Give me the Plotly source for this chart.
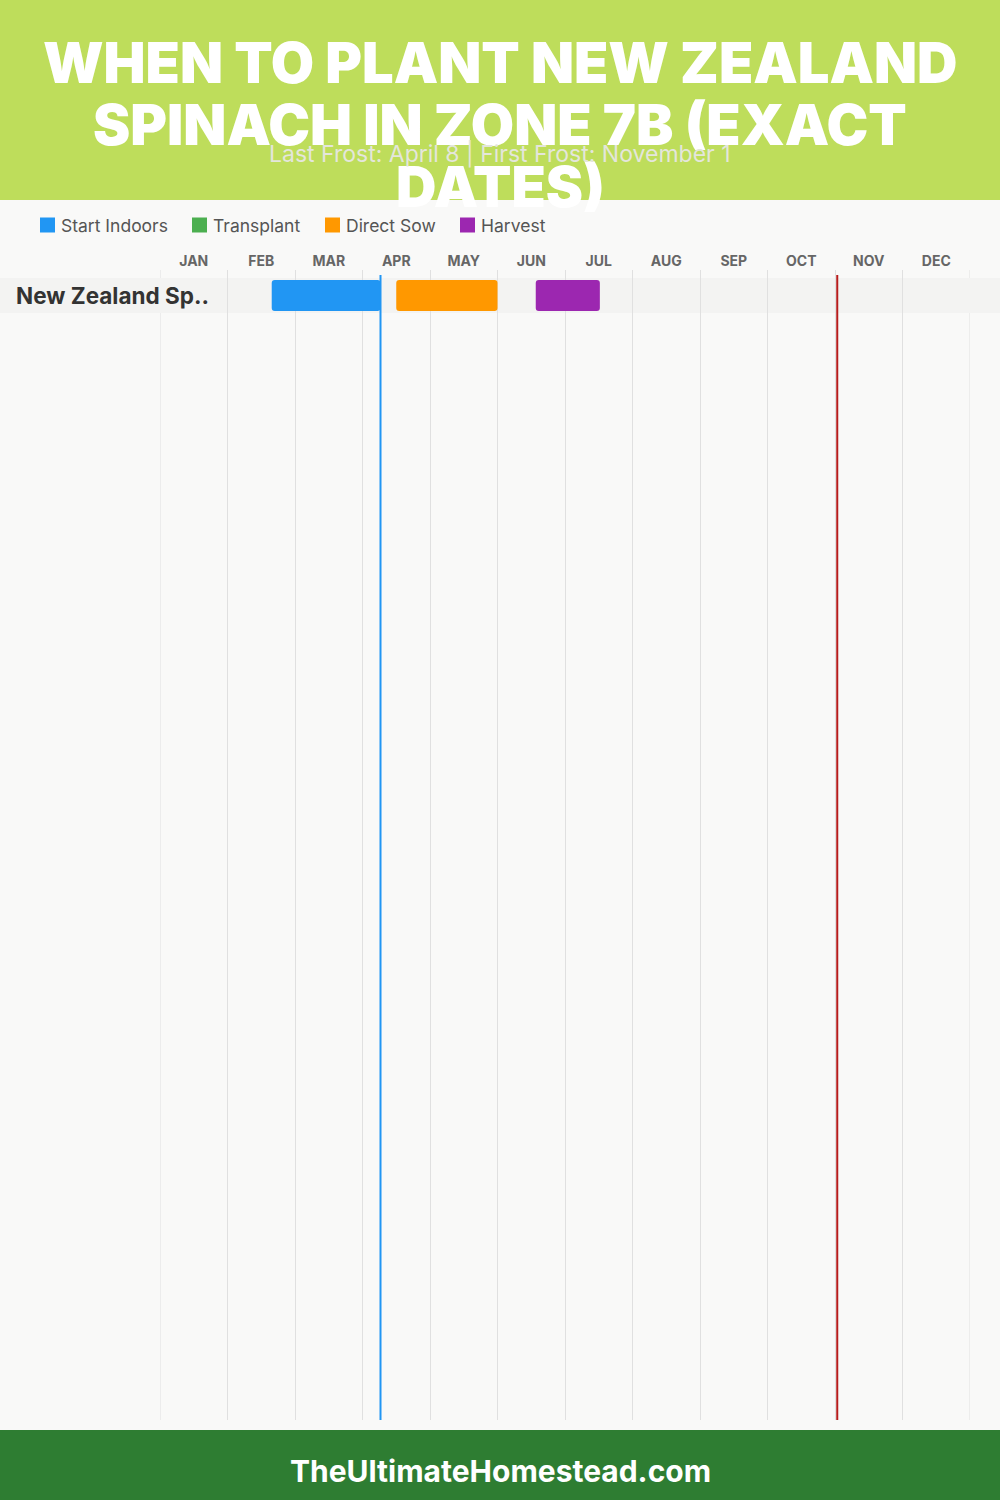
import plotly.graph_objects as go
from datetime import date

# ---------------- data ----------------
months = ["JAN", "FEB", "MAR", "APR", "MAY", "JUN", "JUL", "AUG", "SEP", "OCT", "NOV", "DEC"]
crops = ["New Zealand Sp.."]
legend_names = ["Start Indoors", "Transplant", "Direct Sow", "Harvest"]
legend_colors = ["#2196F3", "#4CAF50", "#FF9800", "#9C27B0"]
start_indoors = [("2024-02-19", "2024-04-08")]
transplant = []
direct_sow = [("2024-04-15", "2024-05-31")]
harvest = [("2024-06-17", "2024-07-16")]
last_frost = "2024-04-08"
first_frost = "2024-11-01"
title_lines = ["WHEN TO PLANT NEW ZEALAND", "SPINACH IN ZONE 7B (EXACT", "DATES)"]
subtitle = "Last Frost: April 8 | First Frost: November 1"
footer = "TheUltimateHomestead.com"

DIM = [31, 29, 31, 30, 31, 30, 31, 31, 30, 31, 30, 31]


def mpos(s):
    d = date.fromisoformat(s)
    return (d.month - 1) + d.day / DIM[d.month - 1]


W, H = 1000, 1500
ML, MR, MT, MB = 160, 30, 270, 80
PW, PH = W - ML - MR, H - MT - MB


def px(x):
    return (x - ML) / PW


def py(y):
    return (H - MB - y) / PH


FONT = "Inter"
fig = go.Figure()

series = [start_indoors, transplant, direct_sow, harvest]
for name, color, spans in zip(legend_names, legend_colors, series):
    if not spans:
        continue
    fig.add_trace(go.Bar(
        orientation="h",
        y=[i for i in range(len(spans))],
        base=[mpos(a) for a, b in spans],
        x=[mpos(b) - mpos(a) for a, b in spans],
        marker=dict(color=color, line=dict(width=0)),
        width=0.886,
        name=name,
        showlegend=False,
        hoverinfo="skip",
    ))

shapes = []
annotations = []
# header / footer
shapes.append(dict(type="rect", xref="paper", yref="paper", x0=px(0), x1=px(W), y0=py(200), y1=py(0),
                   fillcolor="#BEDD5B", line=dict(width=0), layer="below"))
shapes.append(dict(type="rect", xref="paper", yref="paper", x0=px(0), x1=px(W), y0=py(H), y1=py(1430),
                   fillcolor="#2E7D32", line=dict(width=0), layer="below"))
# boundary gridlines (year start / end)
for xb in (0, len(months)):
    shapes.append(dict(type="line", xref="x", yref="paper", x0=xb, x1=xb, y0=0, y1=1,
                       line=dict(color="#E0E0E0", width=1), layer="below"))
# row background
for i, c in enumerate(crops):
    shapes.append(dict(type="rect", xref="paper", yref="y", x0=px(0), x1=px(W), y0=i - 0.5, y1=i + 0.5,
                       fillcolor="#F3F3F2", line=dict(width=0), layer="between"))
    annotations.append(dict(xref="paper", yref="y", x=px(14), y=i, xanchor="left", yanchor="middle",
                            text=c, showarrow=False,
                            font=dict(family=FONT, size=22.5, color="#333333", weight=700)))
# frost lines
shapes.append(dict(type="line", xref="x", yref="paper", x0=mpos(last_frost), x1=mpos(last_frost),
                   y0=0, y1=py(275), line=dict(color="#2196F3", width=2), layer="above"))
shapes.append(dict(type="line", xref="x", yref="paper", x0=mpos(first_frost), x1=mpos(first_frost),
                   y0=0, y1=py(275), line=dict(color="#B71C1C", width=2), layer="above"))

# title
for k, line in enumerate(title_lines):
    annotations.append(dict(xref="paper", yref="paper", x=px(500), y=py(63 + 62 * k), xanchor="center",
                            yanchor="middle", text=line, showarrow=False,
                            font=dict(family=FONT, size=56, color="white", weight=900)))
annotations.append(dict(xref="paper", yref="paper", x=px(500), y=py(154), xanchor="center", yanchor="middle",
                        text=subtitle, showarrow=False,
                        font=dict(family=FONT, size=23, color="#E4E6DC")))
annotations.append(dict(xref="paper", yref="paper", x=px(500), y=py(1471), xanchor="center", yanchor="middle",
                        text=footer, showarrow=False,
                        font=dict(family=FONT, size=30, color="white", weight=700)))

# legend (manual)
leg_x = [40, 192, 325, 460]
for name, color, lx in zip(legend_names, legend_colors, leg_x):
    shapes.append(dict(type="rect", xref="paper", yref="paper", x0=px(lx), x1=px(lx + 15),
                       y0=py(232.5), y1=py(217.5), fillcolor=color, line=dict(width=0)))
    annotations.append(dict(xref="paper", yref="paper", x=px(lx + 19), y=py(225), xanchor="left",
                            yanchor="middle", text=name, showarrow=False,
                            font=dict(family=FONT, size=17.5, color="#555555")))

unit = 35.0
top = -(295.5 - MT) / unit
bottom = top + PH / unit

fig.update_layout(
    width=W, height=H,
    margin=dict(l=ML, r=MR, t=MT, b=MB),
    paper_bgcolor="#F9F9F8", plot_bgcolor="rgba(0,0,0,0)",
    shapes=shapes, annotations=annotations,
    barmode="overlay",
    barcornerradius=3,
    showlegend=False,
    xaxis=dict(range=[0, 12], side="top", tickvals=[i + 0.5 for i in range(12)], ticktext=months,
               showgrid=False, zeroline=False, ticks="", showline=False,
               tickfont=dict(family=FONT, size=14, color="#666666", weight=700),
               minor=dict(tickvals=list(range(13)), showgrid=True, gridcolor="#E0E0E0", gridwidth=1),
               fixedrange=True),
    yaxis=dict(range=[bottom, top], showgrid=False, zeroline=False, showticklabels=False,
               showline=False, ticks="", fixedrange=True),
)

fig.write_html("out.html", config={"displayModeBar": False},
               post_script="document.body.style.margin='0px';document.body.style.padding='0px';")
